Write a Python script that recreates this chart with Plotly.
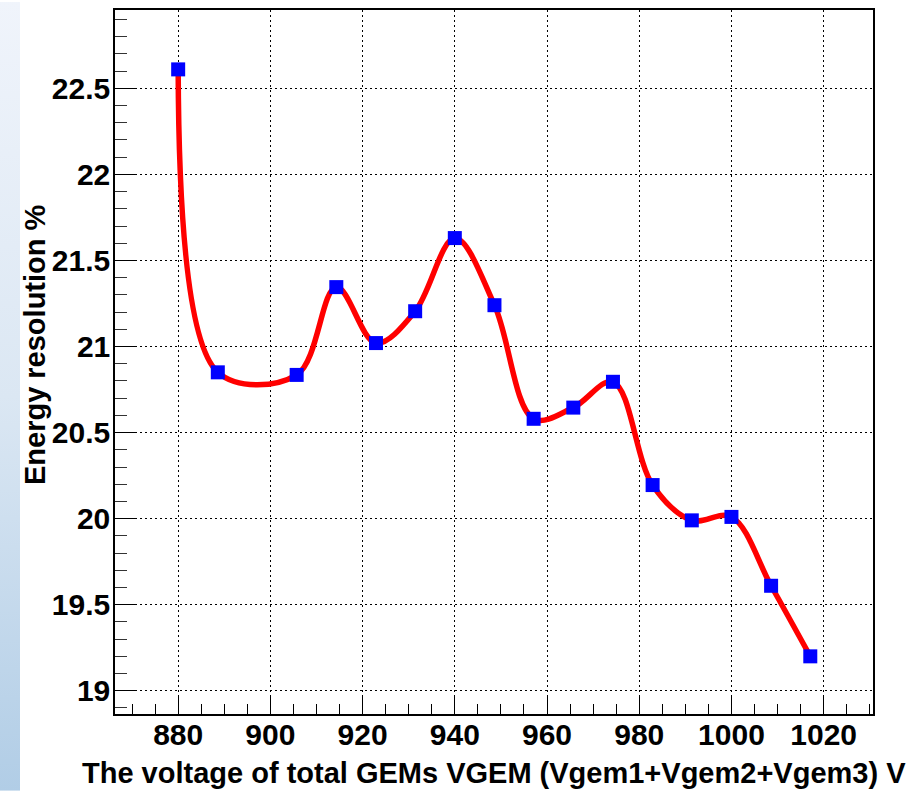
import base64
import plotly.graph_objects as go

# Total GEM voltage (V) and measured energy resolution (%)
voltage = [880, 888.6, 905.7, 914.3, 922.9, 931.4, 940, 948.6, 957.1,
           965.7, 974.3, 982.9, 991.4, 1000, 1008.6, 1017.1]
resolution = [22.61, 20.85, 20.835, 21.345, 21.02, 21.205, 21.63, 21.24, 20.58,
              20.645, 20.795, 20.195, 19.99, 20.01, 19.61, 19.2]

x_title = "The voltage of total GEMs VGEM (Vgem1+Vgem2+Vgem3) V"
y_title = "Energy resolution %"

FONT = "Liberation Sans, Arial, Helvetica, sans-serif"

W, H = 923, 791
ML, MR, MT, MB = 115, 50, 8, 77
PW, PH = W - ML - MR, H - MT - MB

fig = go.Figure()

fig.add_trace(go.Scatter(
    x=voltage, y=resolution,
    mode="lines",
    line=dict(color="#ff0000", width=5.5, shape="spline", smoothing=1.0),
    hoverinfo="skip", showlegend=False,
))
fig.add_trace(go.Scatter(
    x=voltage, y=resolution,
    mode="markers",
    marker=dict(symbol="square", size=14, color="#0000ff", line=dict(width=0)),
    showlegend=False,
))

# Pale blue vertical gradient strip on the left edge of the canvas
svg = (
    '<svg xmlns="http://www.w3.org/2000/svg" width="20" height="791" preserveAspectRatio="none">'
    '<defs><linearGradient id="g" x1="0" y1="0" x2="0" y2="1">'
    '<stop offset="0" stop-color="#f0f4fb"/>'
    '<stop offset="0.5" stop-color="#dbe7f3"/>'
    '<stop offset="1" stop-color="#b1cde6"/>'
    '</linearGradient></defs>'
    '<rect width="20" height="791" fill="url(#g)"/></svg>'
)
src = "data:image/svg+xml;base64," + base64.b64encode(svg.encode()).decode()
fig.add_layout_image(dict(
    source=src, xref="paper", yref="paper",
    x=-ML / PW, y=1 + MT / PH, sizex=20 / PW, sizey=H / PH,
    xanchor="left", yanchor="top", sizing="stretch", layer="below",
))

axis_common = dict(
    showline=True, linecolor="black", linewidth=1.5, mirror=True,
    ticks="inside", tickcolor="black", tickwidth=1,
    showgrid=True, gridcolor="black", gridwidth=1, griddash="2px,3px",
    zeroline=False,
    tickfont=dict(family=FONT, size=30, color="black", weight="bold"),
)

fig.update_xaxes(
    range=[866.3, 1030.7], tick0=880, dtick=20, ticklen=19,
    minor=dict(dtick=5, ticks="inside", ticklen=10, tickcolor="black", showgrid=False),
    ticklabelstandoff=-7,
    **axis_common,
)
fig.update_yaxes(
    range=[18.865, 22.955], tick0=19, dtick=0.5, ticklen=22,
    minor=dict(dtick=0.1, ticks="inside", ticklen=12, tickcolor="#333333", showgrid=False),
    ticklabelstandoff=-3,
    **axis_common,
)

fig.add_annotation(
    text=x_title, xref="paper", yref="paper",
    x=0.5, y=-(773 - (MT + PH)) / PH, xanchor="center", yanchor="middle",
    showarrow=False, font=dict(family=FONT, size=29, color="black", weight="bold"),
)
fig.add_annotation(
    text=y_title, xref="paper", yref="paper", textangle=-90,
    x=(35 - ML) / PW, y=(MT + PH - 344) / PH, xanchor="center", yanchor="middle",
    showarrow=False, font=dict(family=FONT, size=29, color="black", weight="bold"),
)

fig.update_layout(
    width=W, height=H,
    margin=dict(l=ML, r=MR, t=MT, b=MB, pad=0),
    paper_bgcolor="white", plot_bgcolor="white",
    showlegend=False,
)

fig.write_html("out.html")
